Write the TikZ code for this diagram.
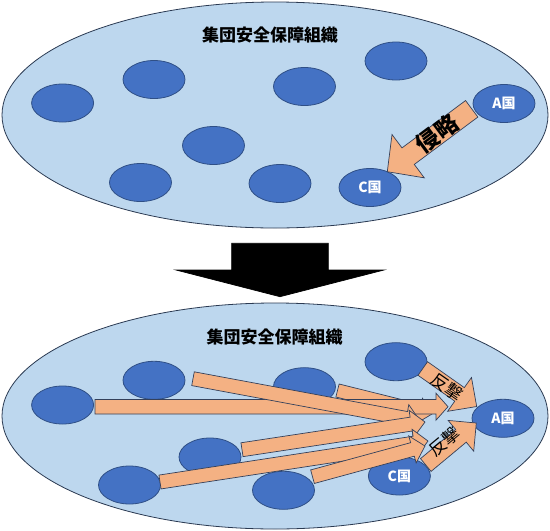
\documentclass[tikz,border=0pt]{standalone}
\usepackage{fontspec}
\newfontfamily\jp{Noto Sans CJK JP}
\usetikzlibrary{positioning, calc, shapes.geometric}

\definecolor{orgfill}{HTML}{BDD7EE}
\definecolor{orgline}{HTML}{2B3A52}
\definecolor{natfill}{HTML}{4472C4}
\definecolor{natline}{HTML}{2F4F86}
\definecolor{arrfill}{HTML}{F4B183}
\definecolor{arrline}{HTML}{34405A}

\tikzset{
  org/.style={ellipse, draw=orgline, fill=orgfill, line width=0.8pt,
    minimum width=546pt, minimum height=226pt, inner sep=0pt},
  nation/.style={ellipse, draw=natline, fill=natfill, line width=0.8pt,
    minimum width=62pt, minimum height=38pt, inner sep=0pt, text=white,
    font=\jp\bfseries\fontsize{14}{14}\selectfont},
  orgtitle/.style={font=\jp\bfseries\fontsize{17}{17}\selectfont},
  barrow/.style={draw=arrline, fill=arrfill, line width=0.7pt, line join=miter},
  bigword/.style={font=\jp\bfseries\fontsize{23}{23}\selectfont, inner sep=0pt},
  hitword/.style={font=\jp\fontsize{17}{17}\selectfont, inner sep=0pt}
}

% block arrow: [style] {tail} {tip} {half shaft} {half head} {head length}
\newcommand{\blockarrow}[6][]{%
  \filldraw[barrow,#1] ($(#2)!#4pt!90:(#3)$)
    -- ($(#3)!#6pt!(#2)!#4pt!90:(#3)$)
    -- ($(#3)!#6pt!(#2)!#5pt!90:(#3)$)
    -- (#3)
    -- ($(#3)!#6pt!(#2)!#5pt!-90:(#3)$)
    -- ($(#3)!#6pt!(#2)!#4pt!-90:(#3)$)
    -- ($(#2)!#4pt!-90:(#3)$) -- cycle;}

\begin{document}
\begin{tikzpicture}[x=1pt, y=1pt]
    \useasboundingbox (0,0) rectangle (550,-531);

    % before
    \node[org] (top) at (275,-115) {};
    \node[orgtitle] (toptitle) at (270,-35) {集団安全保障組織};
    \node[nation] (t1) at (62.6,-103) {};
    \node[nation] (t2) at (154,-79.5) {};
    \node[nation] (t3) at (304.5,-86.5) {};
    \node[nation] (t4) at (396,-61) {};
    \node[nation] (t6) at (213.5,-145.5) {};
    \node[nation] (t7) at (140.5,-182.5) {};
    \node[nation] (t8) at (280,-183.5) {};
    \node[nation] (tA) at (504,-103.5) {A国};
    \node[nation] (tC) at (370,-187.5) {C国};

    \coordinate (inv-s) at (471.7,-108.8);
    \coordinate (inv-e) at (387.3,-171.7);
    \blockarrow{inv-s}{inv-e}{10.3}{27}{26}
    \node[bigword, rotate=36.7] (invlbl) at (437,-134) {侵略};

    % turn
    \coordinate (down-s) at (280,-243.3);
    \coordinate (down-e) at (280,-296.7);
    \blockarrow[draw=black, fill=black]{down-s}{down-e}{48.3}{104}{26.7}

    % after
    \node[org] (bot) at (275,-416) {};
    \node[orgtitle] (bottitle) at (274.6,-337) {集団安全保障組織};
    \node[nation] (b1) at (62.6,-405) {};
    \node[nation] (b2) at (154,-380.3) {};
    \node[nation] (b3) at (304.5,-386.7) {};
    \node[nation] (b4) at (396,-361.7) {};
    \node[nation] (b6) at (210,-457) {};
    \node[nation] (b7) at (129.5,-485) {};
    \node[nation] (b8) at (283.5,-490.3) {};
    \node[nation] (bA) at (503,-418.3) {A国};
    \node[nation] (bC) at (399.4,-476) {C国};

    \coordinate (h1-s) at (95,-406.7);   \coordinate (h1-e) at (448,-406.7);
    \coordinate (h2-s) at (193,-378.7);  \coordinate (h2-e) at (420,-421);
    \coordinate (h3-s) at (337.5,-390.5);\coordinate (h3-e) at (432,-414);
    \coordinate (h6-s) at (242,-449.7);  \coordinate (h6-e) at (425,-422);
    \coordinate (h7-s) at (160,-482);    \coordinate (h7-e) at (428,-441);
    \coordinate (h8-s) at (312.5,-476.7);\coordinate (h8-e) at (425,-446);
    \blockarrow{h3-s}{h3-e}{6.7}{13}{13}
    \blockarrow{h1-s}{h1-e}{7.3}{13.5}{12}
    \blockarrow{h2-s}{h2-e}{7}{14}{14}
    \blockarrow{h6-s}{h6-e}{7}{14}{14}
    \blockarrow{h7-s}{h7-e}{7}{14}{14}
    \blockarrow{h8-s}{h8-e}{7}{14}{13}

    \coordinate (r1-s) at (422.8,-368.5); \coordinate (r1-e) at (476.7,-406.5);
    \coordinate (r2-s) at (425.8,-465);   \coordinate (r2-e) at (476.3,-423);
    \blockarrow{r1-s}{r1-e}{8.3}{20.7}{21}
    \blockarrow{r2-s}{r2-e}{8.3}{20}{20}
    \node[hitword, rotate=-34.8] (r1lbl) at (447,-387) {反撃};
    \node[hitword, rotate=39.7] (r2lbl) at (444,-442) {反撃};
\end{tikzpicture}
\end{document}
